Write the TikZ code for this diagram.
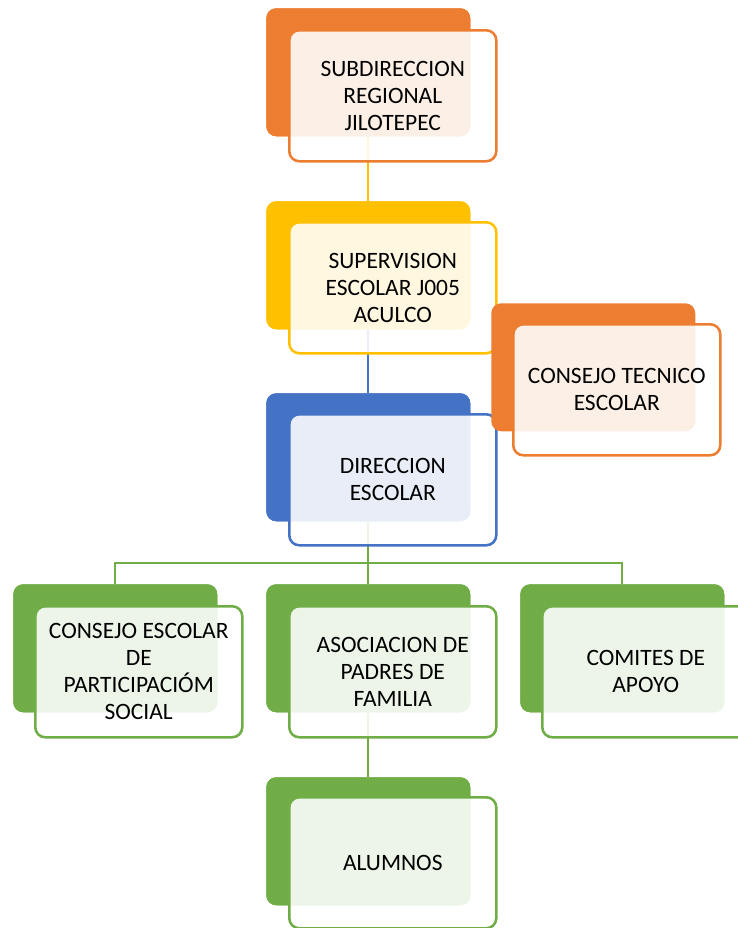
\documentclass[tikz,border=0pt]{standalone}
\usepackage{fontspec}
\setmainfont{Carlito}
\definecolor{cOr}{HTML}{ED7D31}
\definecolor{cYe}{HTML}{FFC000}
\definecolor{cBl}{HTML}{4472C4}
\definecolor{cGr}{HTML}{70AD47}
\begin{document}
\begin{tikzpicture}[x=0.75pt,y=-0.75pt,
  backbox/.style={draw=none, fill=#1, rounded corners=7.5pt, minimum width=153pt, minimum height=96pt, anchor=north west, inner sep=0pt},
  frontbox/.style={draw=#1, line width=1.9pt, fill=white, fill opacity=0.88, text opacity=1, rounded corners=7.5pt, minimum width=155.25pt, minimum height=98.25pt, anchor=north west, align=center, font=\fontsize{17.6}{20.3}\selectfont, inner sep=0pt},
  link/.style={draw=#1, line width=1.6pt}]
\clip (0,0) rectangle (738,928);
\fill[white] (0,0) rectangle (738,928);
% back boxes (positions first so connectors can use names)
\path (266,8) node[backbox=cOr] (b1) {};
\path (266,201) node[backbox=cYe] (b2) {};
\path (266,393) node[backbox=cBl] (b4) {};
\path (13,584) node[backbox=cGr] (b5) {};
\path (266,584) node[backbox=cGr] (b6) {};
\path (520,584) node[backbox=cGr] (b7) {};
\path (266,777) node[backbox=cGr] (b8) {};
% connectors
\draw[link=cYe] (b1.south) -- (b2.north);
\draw[link=cBl] (b2.south) -- (b4.north);
\draw[link=cGr] (b4.south) -- (b6.north);
\draw[link=cGr] (b5.north) -- ++(0,-21) -| (b7.north);
\draw[link=cGr] (b6.south) -- (b8.north);
% redraw back boxes over connectors
\path (266,8) node[backbox=cOr] {};
\path (266,201) node[backbox=cYe] {};
\path (266,393) node[backbox=cBl] {};
\path (13,584) node[backbox=cGr] {};
\path (266,584) node[backbox=cGr] {};
\path (520,584) node[backbox=cGr] {};
\path (266,777) node[backbox=cGr] {};
% front boxes
\path (288,29) node[frontbox=cOr] (f1) {SUBDIRECCION\\REGIONAL\\JILOTEPEC};
\path (288,221) node[frontbox=cYe] (f2) {SUPERVISION\\ESCOLAR J005\\ACULCO};
\path (288,413) node[frontbox=cBl] (f4) {DIRECCION\\ESCOLAR};
\path (34,605) node[frontbox=cGr] (f5) {CONSEJO ESCOLAR\\DE\\PARTICIPACIÓM\\SOCIAL};
\path (288,605) node[frontbox=cGr] (f6) {ASOCIACION DE\\PADRES DE\\FAMILIA};
\path (541,605) node[frontbox=cGr] (f7) {COMITES DE\\APOYO};
\path (288,796) node[frontbox=cGr] (f8) {ALUMNOS};
% assistant box drawn last
\path (491,303) node[backbox=cOr] (b3) {};
\path (512,323) node[frontbox=cOr] (f3) {CONSEJO TECNICO\\ESCOLAR};
\end{tikzpicture}
\end{document}
